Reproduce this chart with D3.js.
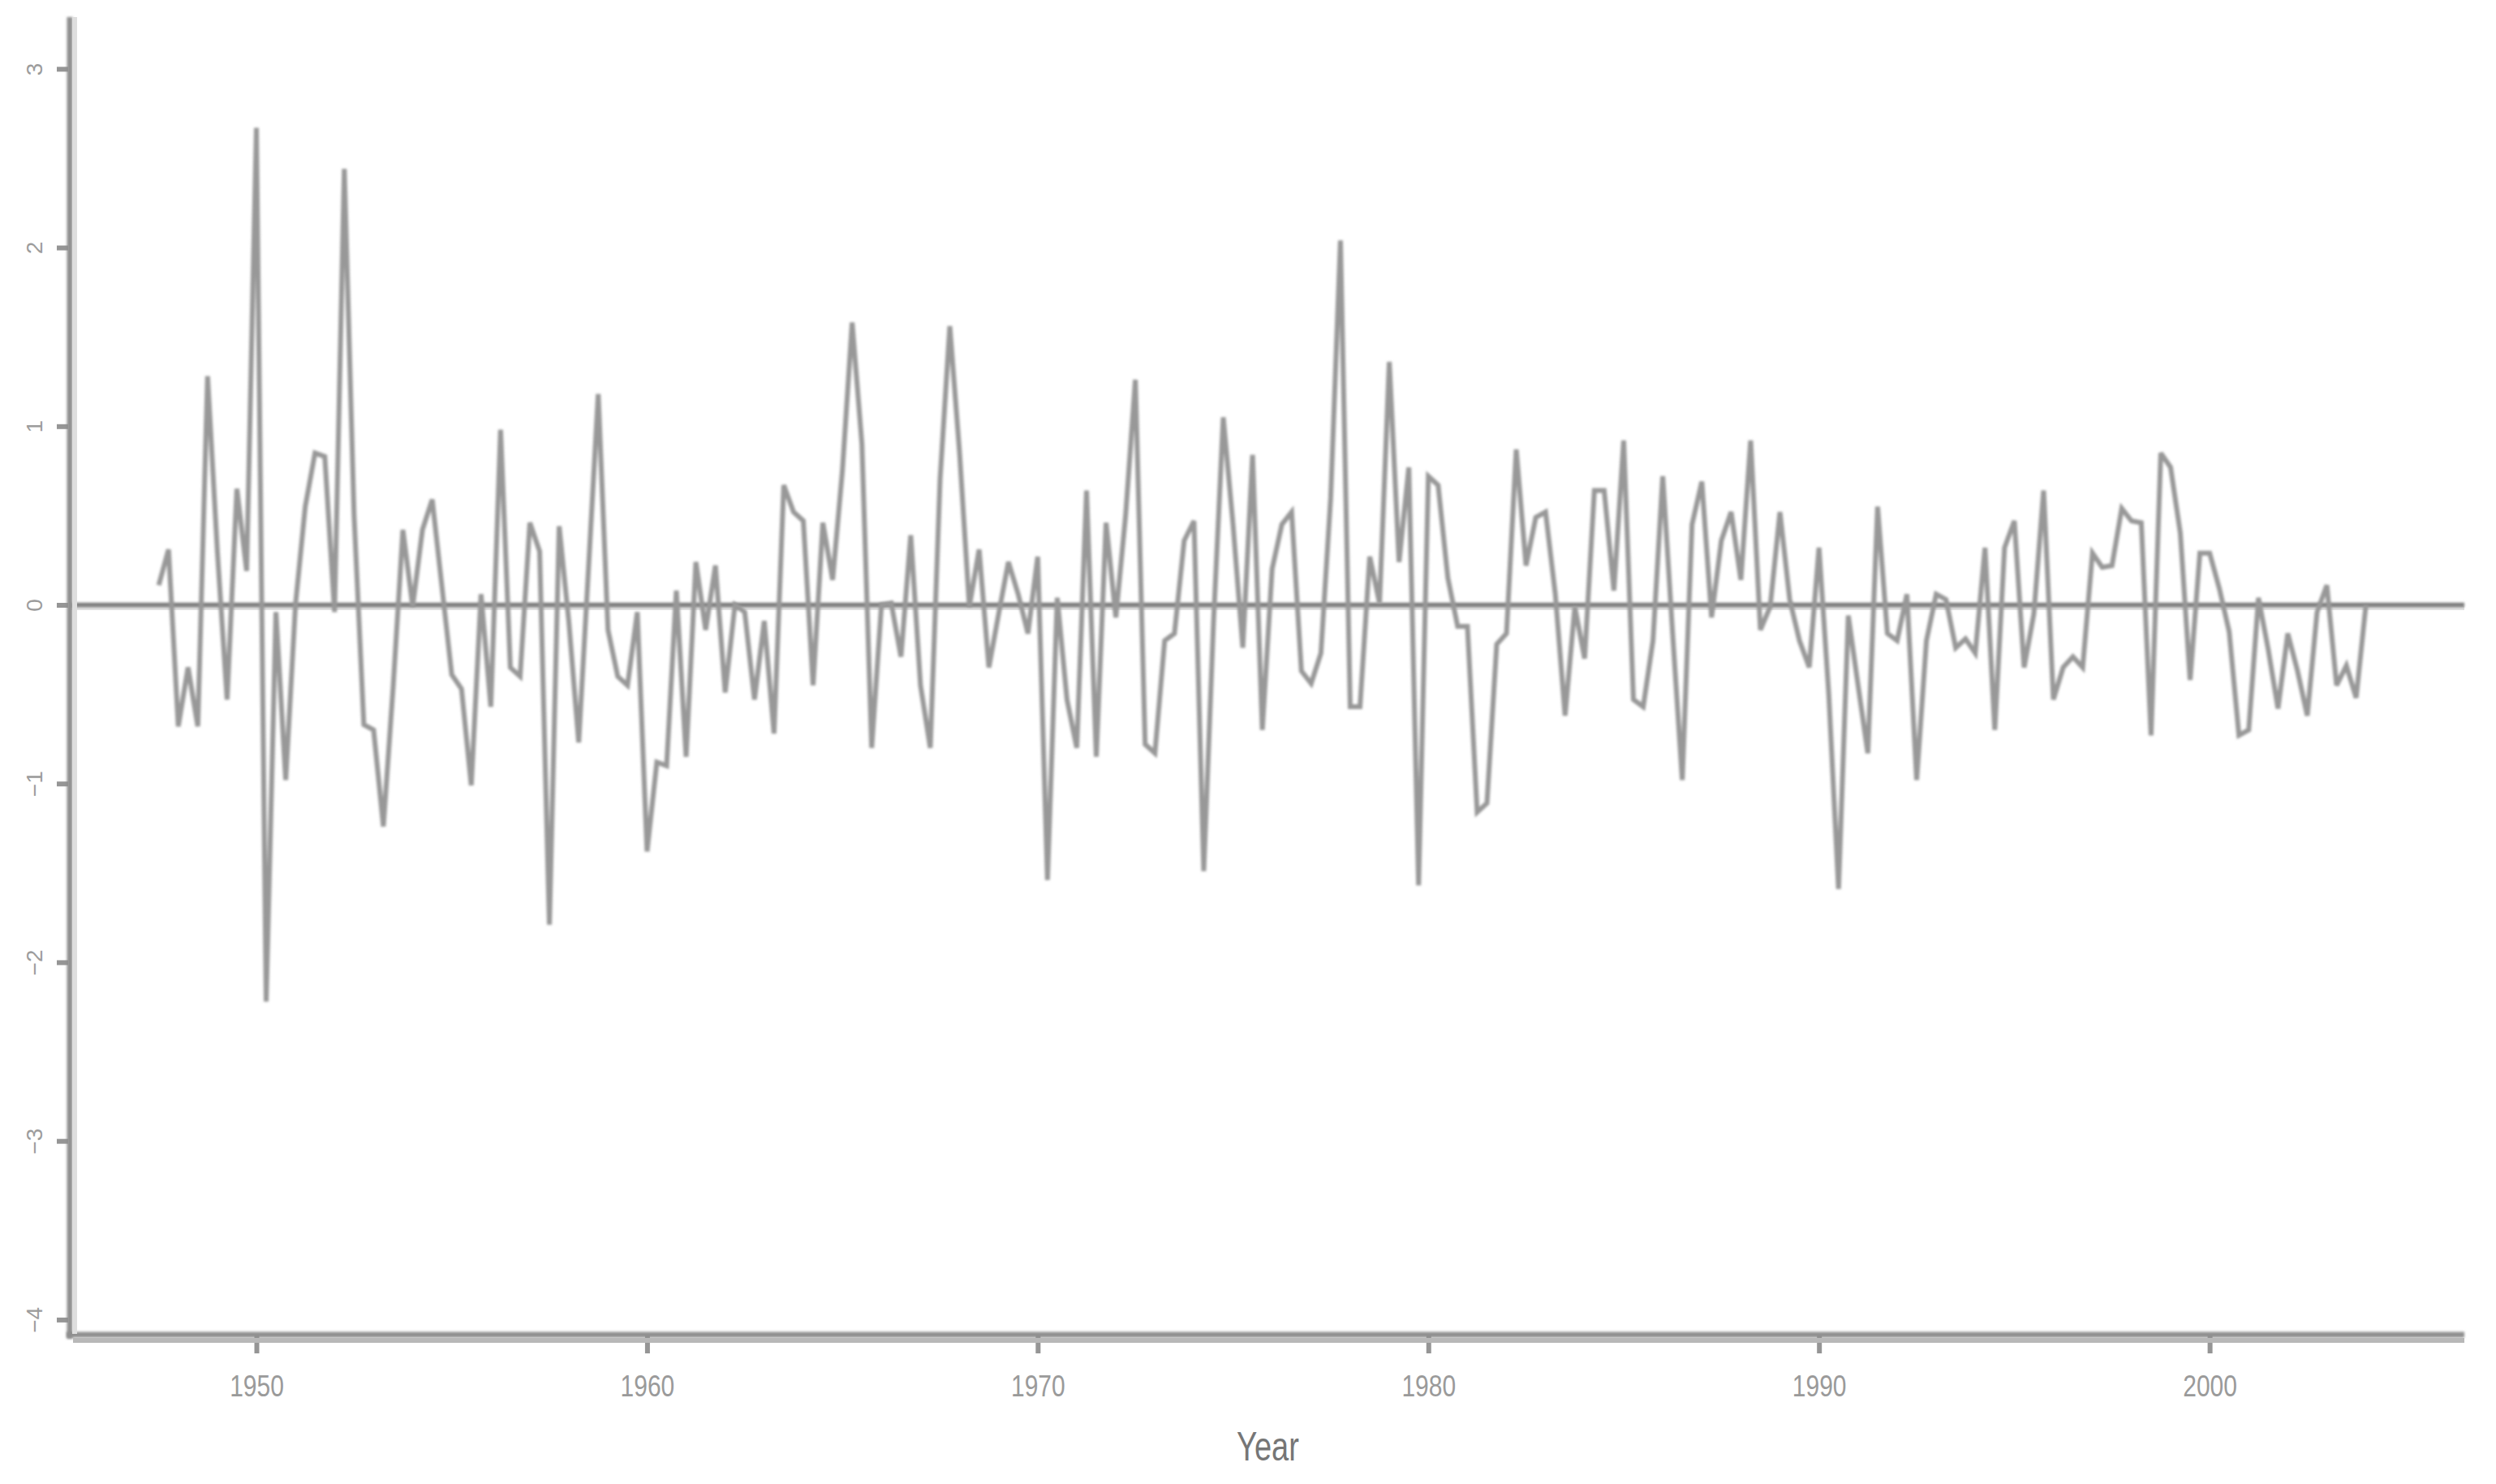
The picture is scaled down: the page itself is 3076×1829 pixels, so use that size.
<!DOCTYPE html>
<html>
<head>
<meta charset="utf-8">
<script src="https://cdn.jsdelivr.net/npm/d3@7"></script>
<style>
  html, body { margin: 0; padding: 0; background: #ffffff; }
  svg { display: block; }
</style>
</head>
<body>
<svg id="chart" width="3076" height="1829"></svg>
<script>
// ---------------- data ----------------
const startYear = 1947.5;      // first quarter plotted
const quarterStep = 0.25;      // quarterly observations
const values = [
  0.11, 0.31, -0.68, -0.35, -0.68, 1.28, 0.30, -0.53, 0.65, 0.19,
  2.67, -2.22, -0.04, -0.98, 0.00, 0.55, 0.85, 0.83, -0.04, 2.44,
  0.50, -0.67, -0.70, -1.24, -0.46, 0.42, -0.01, 0.42, 0.59, 0.10,
  -0.39, -0.47, -1.01, 0.06, -0.57, 0.98, -0.35, -0.40, 0.46, 0.30,
  -1.79, 0.44, -0.10, -0.77, 0.20, 1.18, -0.14, -0.40, -0.45, -0.04,
  -1.38, -0.88, -0.90, 0.08, -0.85, 0.24, -0.14, 0.22, -0.49, 0.00,
  -0.04, -0.53, -0.09, -0.72, 0.67, 0.52, 0.47, -0.45, 0.46, 0.14,
  0.75, 1.58, 0.90, -0.80, 0.00, 0.01, -0.29, 0.39, -0.45, -0.80,
  0.70, 1.56, 0.85, -0.01, 0.31, -0.35, -0.05, 0.24, 0.06, -0.16,
  0.27, -1.54, 0.04, -0.53, -0.80, 0.64, -0.85, 0.46, -0.07, 0.50,
  1.26, -0.78, -0.83, -0.20, -0.16, 0.36, 0.47, -1.49, -0.10, 1.05,
  0.45, -0.24, 0.84, -0.70, 0.20, 0.45, 0.52, -0.37, -0.44, -0.27,
  0.60, 2.04, -0.57, -0.57, 0.27, 0.01, 1.36, 0.24, 0.77, -1.57,
  0.72, 0.67, 0.15, -0.12, -0.12, -1.16, -1.11, -0.22, -0.16, 0.87,
  0.22, 0.49, 0.52, 0.06, -0.62, -0.01, -0.30, 0.64, 0.64, 0.08,
  0.92, -0.53, -0.57, -0.20, 0.72, -0.15, -0.98, 0.45, 0.69, -0.07,
  0.36, 0.52, 0.14, 0.92, -0.14, -0.01, 0.52, 0.03, -0.20, -0.35,
  0.32, -0.50, -1.59, -0.06, -0.45, -0.83, 0.55, -0.16, -0.20, 0.06,
  -0.98, -0.20, 0.06, 0.03, -0.24, -0.19, -0.27, 0.32, -0.70, 0.32,
  0.47, -0.35, -0.05, 0.64, -0.53, -0.35, -0.29, -0.35, 0.29, 0.21,
  0.22, 0.54, 0.47, 0.46, -0.73, 0.85, 0.77, 0.40, -0.42, 0.29,
  0.29, 0.09, -0.15, -0.73, -0.70, 0.04, -0.25, -0.58, -0.16, -0.37,
  -0.62, -0.04, 0.11, -0.45, -0.34, -0.52, 0.00
];
const xTickValues = [1950, 1960, 1970, 1980, 1990, 2000];
const yTickValues = [-4, -3, -2, -1, 0, 1, 2, 3];
const xTitle = "Year";
const referenceLevel = 0;

// ---------------- layout ----------------
const svg = d3.select("#chart");
const plotLeft = 88, plotRight = 3037, plotTop = 21, plotBottom = 1644;

const x = d3.scaleLinear().domain([1945.264, 2006.52]).range([plotLeft, plotRight]);
const y = d3.scaleLinear().domain([-4.08, 3.29]).range([plotBottom, plotTop]);

const series = values.map((v, i) => ({ t: startYear + i * quarterStep, v }));

const defs = svg.append("defs");
defs.append("filter").attr("id", "soft")
  .attr("filterUnits", "userSpaceOnUse")
  .attr("x", 0).attr("y", 0).attr("width", 3076).attr("height", 1829)
  .append("feGaussianBlur").attr("stdDeviation", 1.4);

// reference line at zero
svg.append("line")
  .attr("x1", plotLeft).attr("x2", plotRight)
  .attr("y1", y(referenceLevel) + 4).attr("y2", y(referenceLevel) + 4)
  .attr("stroke", "#e2e2e2").attr("stroke-width", 5);
svg.append("line")
  .attr("x1", plotLeft).attr("x2", plotRight)
  .attr("y1", y(referenceLevel)).attr("y2", y(referenceLevel))
  .attr("stroke", "#7c7c7c").attr("stroke-width", 5.5)
  .attr("filter", "url(#soft)");

// series line
const line = d3.line().x(d => x(d.t)).y(d => y(d.v));
svg.append("path")
  .datum(series)
  .attr("d", line)
  .attr("fill", "none")
  .attr("stroke", "#989898")
  .attr("stroke-width", 6)
  .attr("stroke-linejoin", "miter")
  .attr("stroke-miterlimit", 3)
  .attr("filter", "url(#soft)");

// axes
const yAxis = d3.axisLeft(y).tickValues(yTickValues).tickSize(14).tickPadding(16)
  .tickFormat(d3.format("d"));
const gy = svg.append("g").attr("transform", `translate(${plotLeft - 4},0)`).call(yAxis);
gy.select(".domain").remove();
gy.selectAll(".tick line").attr("stroke", "#959595").attr("stroke-width", 6);
gy.selectAll(".tick text")
  .attr("fill", "#9c9c9c")
  .attr("font-family", "Liberation Sans, Arial, sans-serif")
  .attr("font-size", 28)
  .attr("text-anchor", "middle")
  .attr("dy", 0)
  .attr("x", 0)
  .attr("transform", "translate(-32,0) rotate(-90)");

const xAxis = d3.axisBottom(x).tickValues(xTickValues).tickSize(22).tickPadding(6)
  .tickFormat(d3.format("d"));
const gx = svg.append("g").attr("transform", `translate(0,${plotBottom + 2})`).call(xAxis);
gx.select(".domain").remove();
gx.selectAll(".tick line").attr("stroke", "#959595").attr("stroke-width", 6);
gx.selectAll(".tick text")
  .attr("fill", "#9a9a9a")
  .attr("font-family", "Liberation Sans, Arial, sans-serif")
  .attr("font-size", 30)
  .attr("y", 0)
  .attr("dy", 0)
  .attr("transform", "translate(0,75) scale(1,1.25)");

// axis lines (L shape)
svg.append("line")
  .attr("x1", plotLeft - 2).attr("x2", plotLeft - 2).attr("y1", plotTop).attr("y2", plotBottom + 6)
  .attr("stroke", "#8e8e8e").attr("stroke-width", 7).attr("filter", "url(#soft)");
svg.append("line")
  .attr("x1", plotLeft - 6).attr("x2", plotRight).attr("y1", plotBottom + 1).attr("y2", plotBottom + 1)
  .attr("stroke", "#8e8e8e").attr("stroke-width", 7).attr("filter", "url(#soft)");
svg.append("line")
  .attr("x1", plotLeft + 4).attr("x2", plotLeft + 4).attr("y1", plotTop).attr("y2", plotBottom)
  .attr("stroke", "#dedede").attr("stroke-width", 6);
svg.append("line")
  .attr("x1", plotLeft + 2).attr("x2", plotRight).attr("y1", plotBottom + 8).attr("y2", plotBottom + 8)
  .attr("stroke", "#b8b8b8").attr("stroke-width", 6);

// x title
svg.append("text")
  .attr("x", (plotLeft + plotRight) / 2)
  .attr("y", 0)
  .attr("text-anchor", "middle")
  .attr("fill", "#767676")
  .attr("font-family", "Liberation Sans, Arial, sans-serif")
  .attr("font-size", 38)
  .attr("transform", `translate(0,1800) scale(1,1.3)`)
  .text(xTitle);
</script>
</body>
</html>
